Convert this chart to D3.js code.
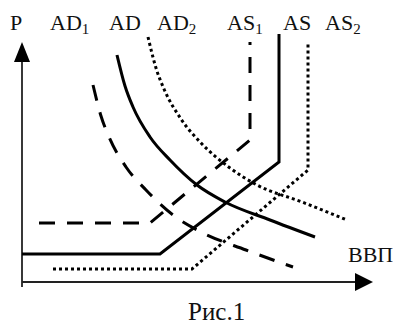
<!DOCTYPE html>
<html>
<head>
<meta charset="utf-8">
<script src="https://cdn.jsdelivr.net/npm/d3@7"></script>
<style>
  body { margin: 0; background: #fff; }
  text { font-family: "Liberation Serif", "Times New Roman", serif; fill: #111; }
</style>
</head>
<body>
<script>
const svgWidth = 403;
const svgHeight = 327;

// curve points, in chart units (x = output, y = price level)
const adPoints = [[95, 227], [103, 196], [111, 175], [128, 145], [148, 122], [175, 97], [203, 80], [248, 62], [293, 45]];
const ad1Points = [[71, 197], [79, 166], [87, 145], [104, 115], [124, 92], [151, 67], [179, 50], [224, 32], [271, 15]];
const ad2Points = [[126, 245], [134, 214], [142, 193], [159, 163], [180, 138], [208, 114], [235, 97], [280, 80], [325, 62]];

const asPoints = [[0, 28], [138, 28], [257, 120], [257, 248]];
const as1Points = [[17, 59], [128, 59], [228, 142], [228, 240]];
const as2Points = [[31, 13], [170, 13], [286, 112], [286, 240]];

const seriesNames = ["AD", "AD1", "AD2", "AS", "AS1", "AS2"];
const axisLabels = ["P", "ВВП"];
const caption = "Рис.1";

var svg = d3.select("body")
    .append("svg")
    .attr("width", svgWidth)
    .attr("height", svgHeight);

var xScale = d3.scaleLinear().domain([0, 350]).range([22, 372]);
var yScale = d3.scaleLinear().domain([0, 240]).range([282, 42]);

var line = d3.line()
    .x(d => xScale(d[0]))
    .y(d => yScale(d[1]));

var smooth = d3.line()
    .x(d => xScale(d[0]))
    .y(d => yScale(d[1]))
    .curve(d3.curveMonotoneX);

// ------- AXES --------
var x0 = xScale(0), y0 = yScale(0);
svg.append("line")
    .attr("x1", x0).attr("y1", y0 + 5)
    .attr("x2", x0).attr("y2", yScale(232))
    .attr("stroke", "#222").attr("stroke-width", 1.8);
svg.append("path")
    .attr("d", `M${x0},${yScale(240)} L${x0 - 8},${yScale(240) + 20} L${x0 + 8},${yScale(240) + 20} Z`)
    .attr("fill", "#000");

svg.append("line")
    .attr("x1", x0).attr("y1", y0)
    .attr("x2", xScale(340)).attr("y2", y0)
    .attr("stroke", "#222").attr("stroke-width", 1.8);
svg.append("path")
    .attr("d", `M${xScale(351)},${y0} L${xScale(333)},${y0 - 9} L${xScale(333)},${y0 + 9} Z`)
    .attr("fill", "#000");

// ------- CURVES --------
const solid = null, dashed = "16,12", dotted = "3,3";
var curves = [
    { pts: asPoints, gen: line, dash: solid },
    { pts: as1Points, gen: line, dash: dashed },
    { pts: as2Points, gen: line, dash: dotted },
    { pts: adPoints, gen: smooth, dash: solid },
    { pts: ad1Points, gen: smooth, dash: dashed },
    { pts: ad2Points, gen: smooth, dash: dotted }
];

svg.selectAll("path.curve")
    .data(curves)
    .enter()
    .append("path")
    .attr("class", "curve")
    .attr("d", d => d.gen(d.pts))
    .attr("fill", "none")
    .attr("stroke", "#000")
    .attr("stroke-width", 3)
    .attr("stroke-dasharray", d => d.dash);

// ------- LABELS --------
var labelX = { "AD": 109, "AD1": 50, "AD2": 157, "AS": 283, "AS1": 227, "AS2": 325 };
var labels = svg.selectAll("text.series")
    .data(seriesNames)
    .enter()
    .append("text")
    .attr("class", "series")
    .attr("x", d => labelX[d])
    .attr("y", 30)
    .attr("font-size", 22);
labels.append("tspan").text(d => d.slice(0, 2));
labels.append("tspan")
    .attr("font-size", 15)
    .attr("dy", 4)
    .text(d => d.slice(2));

svg.append("text")
    .attr("x", 10).attr("y", 30)
    .attr("font-size", 22)
    .text(axisLabels[0]);

svg.append("text")
    .attr("x", 348).attr("y", 262)
    .attr("font-size", 22)
    .text(axisLabels[1]);

svg.append("text")
    .attr("x", 188).attr("y", 320)
    .attr("font-size", 25)
    .text(caption);
</script>
</body>
</html>
